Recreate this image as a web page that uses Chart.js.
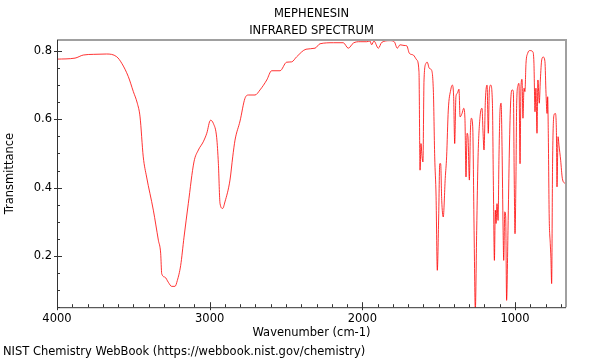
<!DOCTYPE html>
<html>
<head>
<meta charset="utf-8">
<script src="https://cdn.jsdelivr.net/npm/chart.js@4/dist/chart.umd.min.js"></script>
<style>
    html, body { margin: 0; padding: 0; background: #fff; }
    #wrap { width: 600px; height: 360px; }
</style>
</head>
<body>
<div id="wrap"><canvas id="ir-chart"></canvas></div>
<script>
// Spectrum data
let wavenumber = [
    4000, 3882, 3828, 3762, 3675, 3609, 3576, 3533, 3500, 3474, 3456, 3435, 3413, 3369, 3336, 3321,
    3314, 3293, 3271, 3249, 3227, 3212, 3190, 3168, 3140, 3103, 3074, 3042, 3019, 2995, 2976, 2954,
    2943, 2932, 2915, 2900, 2867, 2849, 2834, 2801, 2769, 2747, 2703, 2670, 2626, 2594, 2539, 2496,
    2463, 2430, 2369, 2310, 2277, 2190, 2125, 2092, 2059, 2015, 1971, 1950, 1939, 1924, 1895, 1873,
    1819, 1791, 1771, 1753, 1727, 1709, 1692, 1666, 1644, 1629, 1622, 1616, 1609, 1603, 1596, 1583,
    1575, 1561, 1550, 1535, 1526, 1517, 1509, 1500, 1493, 1487, 1480, 1470, 1457, 1448, 1437, 1421,
    1411, 1402, 1395, 1387, 1378, 1367, 1360, 1347, 1336, 1328, 1321, 1314, 1308, 1299, 1292, 1286,
    1277, 1268, 1260, 1251, 1242, 1229, 1216, 1210, 1203, 1194, 1183, 1175, 1168, 1159, 1148, 1142,
    1135, 1129, 1124, 1118, 1111, 1105, 1098, 1091, 1085, 1078, 1074, 1067, 1061, 1055, 1046, 1037,
    1028, 1018, 1011, 1005, 1000, 994, 989, 980, 974, 967, 961, 954, 948, 941, 935, 928,
    917, 902, 884, 876, 869, 863, 856, 850, 841, 834, 825, 815, 804, 797, 790, 786,
    782, 776, 769, 765, 760, 754, 745, 736, 729, 725, 718, 712, 701, 690, 672, 666
];
let transmittance = [
    0.776, 0.779, 0.788, 0.790, 0.791, 0.783, 0.764, 0.725, 0.681, 0.647, 0.607, 0.490, 0.431, 0.334, 0.246, 0.208,
    0.148, 0.138, 0.123, 0.111, 0.111, 0.128, 0.172, 0.255, 0.353, 0.475, 0.510, 0.534, 0.559, 0.597, 0.588, 0.546,
    0.471, 0.353, 0.339, 0.358, 0.422, 0.490, 0.539, 0.595, 0.661, 0.671, 0.671, 0.686, 0.715, 0.742, 0.742, 0.767,
    0.768, 0.783, 0.805, 0.808, 0.821, 0.824, 0.824, 0.808, 0.823, 0.827, 0.827, 0.829, 0.818, 0.829, 0.808, 0.825,
    0.830, 0.827, 0.808, 0.818, 0.816, 0.815, 0.793, 0.788, 0.774, 0.739, 0.451, 0.529, 0.490, 0.475, 0.715, 0.764,
    0.767, 0.749, 0.746, 0.686, 0.490, 0.373, 0.158, 0.314, 0.470, 0.470, 0.363, 0.314, 0.427, 0.490, 0.627, 0.686,
    0.700, 0.666, 0.529, 0.666, 0.676, 0.688, 0.607, 0.617, 0.632, 0.603, 0.431, 0.559, 0.549, 0.422, 0.568, 0.603,
    0.578, 0.275, 0.040, 0.275, 0.490, 0.607, 0.632, 0.568, 0.510, 0.656, 0.700, 0.559, 0.686, 0.700, 0.647, 0.422,
    0.187, 0.334, 0.295, 0.353, 0.304, 0.490, 0.627, 0.647, 0.520, 0.275, 0.187, 0.329, 0.314, 0.070, 0.275, 0.510,
    0.656, 0.686, 0.681, 0.422, 0.265, 0.422, 0.647, 0.700, 0.705, 0.470, 0.695, 0.717, 0.603, 0.691, 0.681, 0.764,
    0.793, 0.801, 0.798, 0.764, 0.622, 0.691, 0.559, 0.715, 0.647, 0.715, 0.774, 0.782, 0.769, 0.676, 0.617, 0.666,
    0.559, 0.314, 0.236, 0.197, 0.119, 0.470, 0.612, 0.617, 0.568, 0.402, 0.549, 0.524, 0.480, 0.427, 0.412, 0.410
];

// Axis ticks
let xMajorTicks = [4000, 3000, 2000, 1000];
let yMajorTicks = [0.2, 0.4, 0.6, 0.8];
let xMinorStep = 100;
let yMinorStep = 0.05;

let textColor = "black";
Chart.defaults.font.family = "'DejaVu Sans', sans-serif";
Chart.defaults.font.size = 11.5;
Chart.defaults.color = textColor;

// frame + inward ticks (major and minor)
const frameTicks = {
    id: "frameTicks",
    afterDraw(chart) {
        const ctx = chart.ctx;
        const area = chart.chartArea;
        const xs = chart.scales.x;
        const ys = chart.scales.y;
        ctx.save();

        // top and right border, grey
        ctx.strokeStyle = "#a0a0a0";
        ctx.lineWidth = 2;
        ctx.beginPath();
        ctx.moveTo(area.left, area.top);
        ctx.lineTo(area.right, area.top);
        ctx.lineTo(area.right, area.bottom);
        ctx.stroke();

        // left and bottom axis
        ctx.strokeStyle = "#333";
        ctx.lineWidth = 1;
        ctx.beginPath();
        ctx.moveTo(area.left + 0.5, area.top);
        ctx.lineTo(area.left + 0.5, area.bottom + 0.5);
        ctx.lineTo(area.right, area.bottom + 0.5);
        ctx.stroke();

        ctx.beginPath();
        // x ticks
        for (let v = Math.ceil(xs.min / xMinorStep) * xMinorStep; v <= xs.max; v += xMinorStep) {
            const px = Math.round(xs.getPixelForValue(v)) + 0.5;
            const major = xMajorTicks.includes(v);
            ctx.moveTo(px, area.bottom + (major ? 3 : 0));
            ctx.lineTo(px, area.bottom - (major ? 5 : 3));
        }
        // y ticks
        for (let i = Math.ceil(ys.min / yMinorStep); i * yMinorStep <= ys.max; i++) {
            const v = i * yMinorStep;
            const py = Math.round(ys.getPixelForValue(v)) + 0.5;
            const major = i % 4 === 0;
            ctx.moveTo(area.left - (major ? 3 : 0), py);
            ctx.lineTo(area.left + (major ? 5 : 3), py);
        }
        ctx.stroke();
        ctx.restore();
    },
};

function initializeChart() {
    const ctx = document.getElementById("ir-chart").getContext("2d");
    new Chart(ctx, {
        type: "line",
        data: {
            datasets: [
                {
                    label: "MEPHENESIN",
                    data: wavenumber.map((w, i) => ({ x: w, y: transmittance[i] })),
                    borderColor: "rgba(255, 0, 0, 0.8)",
                    borderWidth: 1,
                    pointRadius: 0,
                    cubicInterpolationMode: "monotone",
                    fill: false,
                },
            ],
        },
        options: {
            responsive: true,
            maintainAspectRatio: false,
            animation: false,
            layout: {
                padding: { left: 3, right: 34, top: 0, bottom: 0 },
            },
            plugins: {
                legend: { display: false },
                tooltip: { enabled: false },
                title: {
                    display: true,
                    fullSize: false,
                    text: ["MEPHENESIN", "INFRARED SPECTRUM"],
                    color: textColor,
                    font: { size: 11.5, weight: "normal", lineHeight: 1.5 },
                    padding: { top: 5, bottom: 0.5 },
                },
                subtitle: {
                    display: true,
                    position: "bottom",
                    align: "start",
                    text: "NIST Chemistry WebBook (https://webbook.nist.gov/chemistry)",
                    color: textColor,
                    font: { size: 11.5, lineHeight: 1.2 },
                    padding: { top: 4, bottom: 1 },
                },
            },
            scales: {
                x: {
                    type: "linear",
                    reverse: true,
                    min: 666,
                    max: 4000,
                    afterBuildTicks: (scale) => {
                        scale.ticks = xMajorTicks.map((v) => ({ value: v }));
                    },
                    afterFit: (scale) => {
                        scale.height = 34;
                    },
                    grid: { display: false, drawTicks: false },
                    border: { display: false },
                    ticks: {
                        color: textColor,
                        padding: 5,
                        maxRotation: 0,
                        autoSkip: false,
                        callback: (v) => String(v),
                    },
                    title: {
                        display: true,
                        text: "Wavenumber (cm-1)",
                        color: textColor,
                        font: { size: 11.5 },
                        padding: { top: 0, bottom: 1.5 },
                    },
                },
                y: {
                    min: 0.05,
                    max: 0.832,
                    afterBuildTicks: (scale) => {
                        scale.ticks = yMajorTicks.map((v) => ({ value: v }));
                    },
                    afterFit: (scale) => {
                        scale.width = 54;
                    },
                    grid: { display: false, drawTicks: false },
                    border: { display: false },
                    ticks: {
                        color: textColor,
                        padding: 5,
                        callback: (v) => v.toFixed(1),
                    },
                    title: {
                        display: true,
                        text: "Transmittance",
                        color: textColor,
                        font: { size: 11.5 },
                        padding: { top: 0, bottom: 0 },
                    },
                },
            },
        },
        plugins: [frameTicks],
    });
}

initializeChart();
</script>
</body>
</html>
